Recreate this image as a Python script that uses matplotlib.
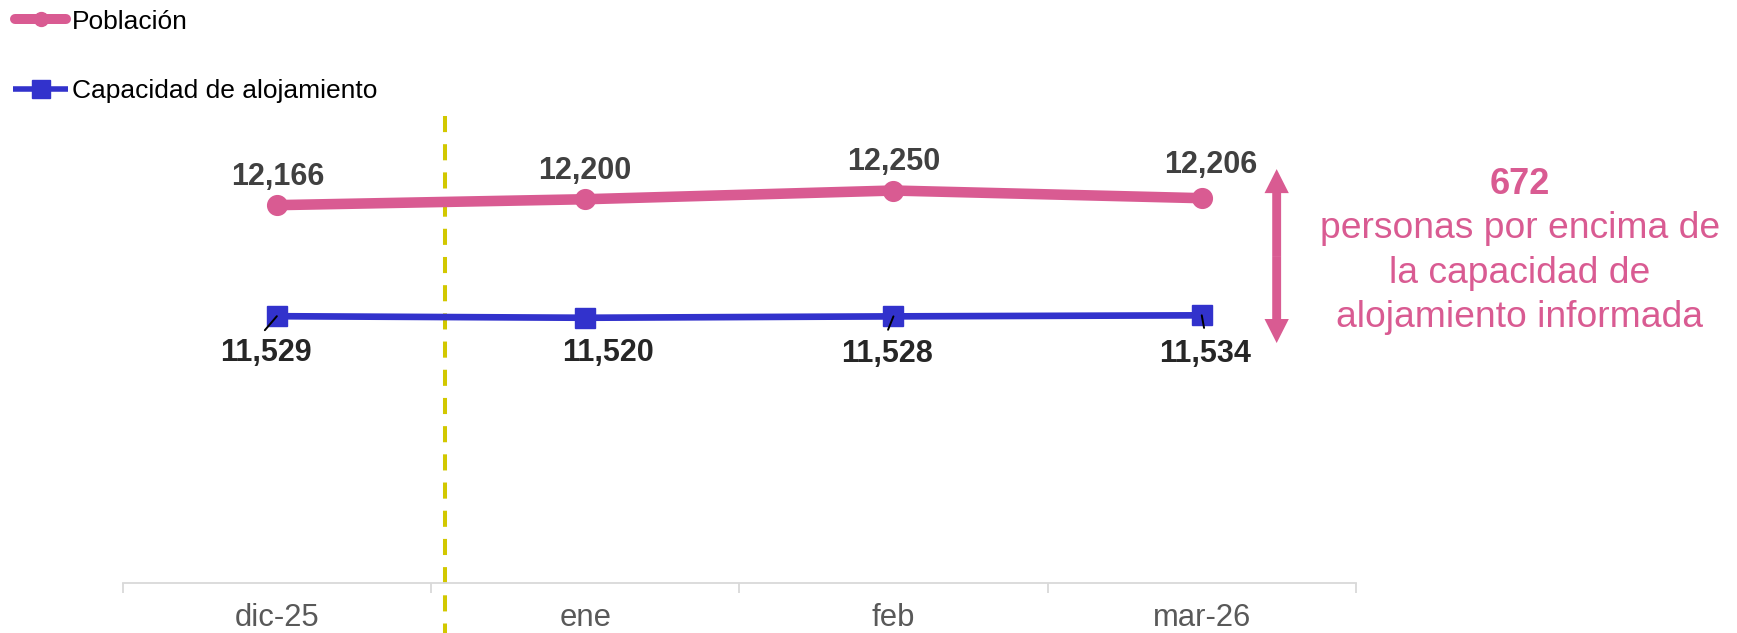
import matplotlib
matplotlib.use("Agg")
import matplotlib.pyplot as plt
from matplotlib.patches import FancyArrowPatch, ArrowStyle
from matplotlib.lines import Line2D
from matplotlib.transforms import blended_transform_factory

plt.rcParams['font.family'] = ['Liberation Sans', 'DejaVu Sans']

# ---- data ----
categorias = ["dic-25", "ene", "feb", "mar-26"]
poblacion = [12166, 12200, 12250, 12206]
capacidad = [11529, 11520, 11528, 11534]
serie_pob = "Población"
serie_cap = "Capacidad de alojamiento"
texto_lado = ["personas por encima de", "la capacidad de", "alojamiento informada"]

PINK = "#D95B92"
BLUE = "#3232CC"
YELLOW = "#D2C800"

W, H, DPI = 1737, 633, 100
fig = plt.figure(figsize=(W / DPI, H / DPI), dpi=DPI)
ax_left, ax_right = 122.7, 1355.9
ax_bottom_px, ax_top_px = 582.7, 582.7 - 2500 * 0.1743
ax = fig.add_axes([ax_left / W, (H - ax_bottom_px) / H,
                   (ax_right - ax_left) / W, (ax_bottom_px - ax_top_px) / H])

x = list(range(len(categorias)))
ax.plot(x, poblacion, color=PINK, lw=7.6, marker="o", markersize=14.2,
        solid_capstyle="round", zorder=3)
ax.plot(x, capacidad, color=BLUE, lw=4.8, marker="s", markersize=14.4,
        zorder=3)

ax.set_xlim(-0.5, len(categorias) - 0.5)
ax.set_ylim(10000, 12500)

# axes styling
for s in ["left", "right", "top"]:
    ax.spines[s].set_visible(False)
ax.spines["bottom"].set_color("#D9D9D9")
ax.spines["bottom"].set_linewidth(1.3)
ax.set_yticks([])
ax.set_xticks(x)
ax.set_xticklabels(categorias, fontsize=22.3, color="#595959")
ax.tick_params(axis="x", which="major", length=0, pad=14.4)
ax.set_xticks([i - 0.5 for i in range(len(categorias) + 1)], minor=True)
ax.tick_params(axis="x", which="minor", length=7.5, width=1.3, color="#D9D9D9")

# dashed separator (drawn from the top down)
sep_x = 0.547
tr = blended_transform_factory(ax.transData, ax.transAxes)
top_frac = (ax_bottom_px - 116) / (ax_bottom_px - ax_top_px)
bot_frac = (ax_bottom_px - H) / (ax_bottom_px - ax_top_px)
ax.plot([sep_x, sep_x], [top_frac, bot_frac], transform=tr, color=YELLOW,
        lw=2.9, dashes=(4, 3), clip_on=False, zorder=2)

# data labels (population, above) - baseline offsets in pixels
pob_off = [(1, 19.7), (0, 20.7), (0, 20.4), (9, 25)]
for xi, v, (dx, dy) in zip(x, poblacion, pob_off):
    ax.annotate(f"{v:,}", (xi, v), xytext=(dx, dy), textcoords="offset pixels",
                ha="center", va="baseline", fontsize=22, fontweight="bold",
                color="#404040", zorder=5)

# data labels (capacity, below) with leader lines
cap_off = [(-11, -45), (22.5, -43.4), (-6, -46), (3, -46.3)]
leader_end = [(-12, -14), None, (-5.4, -13.4), (2.3, -12.6)]
for xi, v, (dx, dy), le in zip(x, capacidad, cap_off, leader_end):
    ax.annotate(f"{v:,}", (xi, v), xytext=(dx, dy), textcoords="offset pixels",
                ha="center", va="baseline", fontsize=22, fontweight="bold",
                color="#262626", zorder=5)
    if le is not None:
        ax.annotate("", (xi, v), xytext=le, textcoords="offset pixels",
                    arrowprops=dict(arrowstyle="-", color="black", lw=1.4,
                                    shrinkA=0, shrinkB=0), zorder=6)

# double-headed arrow
diff = poblacion[-1] - capacidad[-1]
arrow_x = 3.243
arrow_top, arrow_bot = 12373, 11375
mid = (arrow_top + arrow_bot) / 2
st = ArrowStyle.Simple(head_length=17.3, head_width=17.5, tail_width=6.4)
for end in (arrow_top, arrow_bot):
    ax.add_patch(FancyArrowPatch((arrow_x, mid), (arrow_x, end), arrowstyle=st,
                                 mutation_scale=1, color=PINK, lw=0,
                                 shrinkA=0, shrinkB=0, clip_on=False))

fig.text(1520 / W, 1 - 194 / H, f"{diff:,}", ha="center", va="baseline",
         fontsize=26, fontweight="bold", color=PINK)
for i, t in enumerate(texto_lado):
    fig.text(1520 / W, 1 - (238.4 + 44.2 * i) / H, t, ha="center",
             va="baseline", fontsize=26.8, color=PINK)

# legend (drawn manually to match the original placement)
def fx(px):
    return px / W

def fy(px):
    return 1 - px / H

fig.add_artist(Line2D([fx(15), fx(40.5), fx(65.7)], [fy(19)] * 3,
                      transform=fig.transFigure, color=PINK, lw=7.2,
                      solid_capstyle="round", marker="o", markersize=10,
                      markevery=[1]))
fig.add_artist(Line2D([fx(12.7), fx(40.5), fx(68.3)], [fy(89.3)] * 3,
                      transform=fig.transFigure, color=BLUE, lw=4,
                      solid_capstyle="butt", marker="s", markersize=13.3,
                      markevery=[1]))
fig.text(fx(71.5), fy(29.3), serie_pob, ha="left", va="baseline",
         fontsize=19, color="black")
fig.text(fx(71.5), fy(98.3), serie_cap, ha="left", va="baseline",
         fontsize=19, color="black")

fig.savefig("out.png", dpi=DPI)
